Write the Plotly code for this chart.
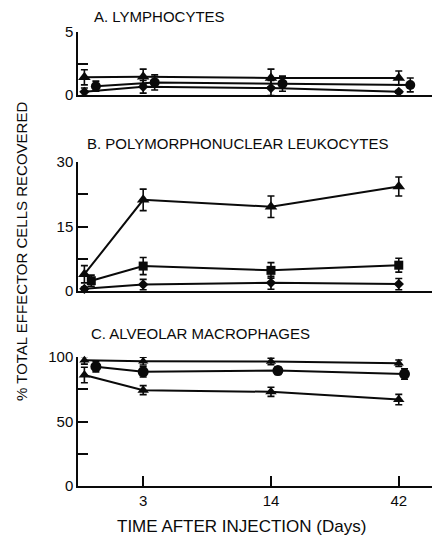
import plotly.graph_objects as go

# ---------------- data ----------------
days = [0, 3, 14, 42]
tick_days = [3, 14, 42]
tick_labels = ["3", "14", "42"]

# Panel A: lymphocytes
a_tri = [1.4, 1.45, 1.35, 1.35]
a_tri_err = [0.6, 0.6, 0.7, 0.55]
a_cir = [0.7, 1.0, 0.9, 0.8]
a_cir_err = [0.4, 0.6, 0.6, 0.55]
a_dia = [0.25, 0.65, 0.55, 0.25]
a_dia_err = [0.3, 0.5, 0.6, 0.1]

# Panel B: polymorphonuclear leukocytes
b_tri = [3.9, 21.2, 19.6, 24.3]
b_tri_err = [2.0, 2.5, 2.5, 2.2]
b_sq = [2.4, 5.8, 4.8, 6.0]
b_sq_err = [1.3, 2.0, 1.8, 1.6]
b_dia = [0.5, 1.5, 1.9, 1.6]
b_dia_err = [0.4, 1.2, 1.5, 1.3]

# Panel C: alveolar macrophages
c_up = [97.5, 96.8, 96.5, 95.2]
c_up_err = [3.0, 3.0, 2.5, 2.5]
c_cir = [92.5, 88.5, 89.5, 86.8]
c_cir_err = [4.0, 4.0, 3.0, 4.0]
c_low = [86.0, 74.3, 73.0, 67.0]
c_low_err = [6.0, 3.5, 3.5, 4.0]

# ---------------- scale: ordinal time axis ----------------
day_index = {0: 0.54, 3: 1.0, 14: 2.0, 42: 3.0}
x_main = [day_index[d] for d in days]
shift = 0.09  # horizontal offset used in the original to separate overlapping symbols
x_shift = [x + shift for x in x_main]
x_range = [0.49, 3.26]

W, H = 435, 543
FONT = "Liberation Sans, Arial, sans-serif"
BLACK = "#0a0a0a"


def py(p):
    return 1 - p / H


def px(p):
    return p / W


fig = go.Figure()


def add(x, y, err, sym, size, xa, ya):
    fig.add_trace(go.Scatter(
        x=x, y=y, mode="lines+markers",
        line=dict(color=BLACK, width=2),
        marker=dict(symbol=sym, size=size, color=BLACK),
        error_y=dict(type="data", array=err, visible=True,
                     color=BLACK, thickness=1.6, width=3.5),
        xaxis=xa, yaxis=ya, showlegend=False, cliponaxis=False,
    ))


# Panel A (top) -> x3/y3
add(x_main, a_tri, a_tri_err, "triangle-up", 11, "x3", "y3")
add(x_shift, a_cir, a_cir_err, "circle", 10, "x3", "y3")
add(x_main, a_dia, a_dia_err, "diamond", 8, "x3", "y3")
# Panel B (middle) -> x2/y2
add(x_main, b_tri, b_tri_err, "triangle-up", 11, "x2", "y2")
add([x_main[0] + shift * 0.6] + x_main[1:], b_sq, b_sq_err, "square", 9, "x2", "y2")
add(x_main, b_dia, b_dia_err, "diamond", 8, "x2", "y2")
# Panel C (bottom) -> x/y
add(x_main, c_up, c_up_err, "triangle-up", 9, "x", "y")
add([x_main[0] + shift, x_main[1], x_main[2] + shift * 0.6, x_main[3] + shift * 0.5],
    c_cir, c_cir_err, "circle", 11, "x", "y")
add(x_main, c_low, c_low_err, "triangle-up", 10, "x", "y")

xdom = [px(78), px(432)]
tfont = dict(family=FONT, size=15, color=BLACK)
yaxis_common = dict(showline=True, linecolor=BLACK, linewidth=1.5, ticks="inside",
                    ticklen=10, tickwidth=1.5, tickcolor=BLACK, showgrid=False,
                    zeroline=False, tickfont=tfont, automargin=False)
xaxis_common = dict(range=x_range, domain=xdom, showline=True, linecolor=BLACK,
                    linewidth=1.5, showgrid=False, zeroline=False, automargin=False)

fig.update_layout(
    width=W, height=H,
    margin=dict(l=0, r=0, t=0, b=0),
    paper_bgcolor="white", plot_bgcolor="white",
    xaxis=dict(**xaxis_common, anchor="y",
               tickvals=[day_index[d] for d in tick_days], ticktext=tick_labels,
               ticks="inside", ticklen=10, tickwidth=1.5, tickcolor=BLACK,
               tickfont=tfont),
    xaxis2=dict(**xaxis_common, anchor="y2", showticklabels=False, ticks=""),
    xaxis3=dict(**xaxis_common, anchor="y3", showticklabels=False, ticks=""),
    yaxis=dict(**yaxis_common, anchor="x", domain=[py(486), py(357)], range=[0, 100],
               tickvals=[0, 25, 50, 75, 100], ticktext=["0", "", "50", "", "100"]),
    yaxis2=dict(**yaxis_common, anchor="x2", domain=[py(291), py(162)], range=[0, 30],
                tickvals=[0, 7.5, 15, 22.5, 30], ticktext=["0", "", "15", "", "30"]),
    yaxis3=dict(**yaxis_common, anchor="x3", domain=[py(95), py(32)], range=[0, 5],
                tickvals=[0, 2.5, 5], ticktext=["0", "", "5"]),
)

titles = [("A. LYMPHOCYTES", 92, 16),
          ("B. POLYMORPHONUCLEAR LEUKOCYTES", 85, 143),
          ("C. ALVEOLAR MACROPHAGES", 89, 333)]
for txt, x0, y0 in titles:
    fig.add_annotation(text=txt, xref="paper", yref="paper", x=px(x0), y=py(y0),
                       xanchor="left", yanchor="middle", showarrow=False,
                       font=dict(family=FONT, size=15, color=BLACK))

fig.add_annotation(text="% TOTAL EFFECTOR CELLS RECOVERED", xref="paper", yref="paper",
                   x=px(22), y=py(252), textangle=-90, showarrow=False,
                   xanchor="center", yanchor="middle",
                   font=dict(family=FONT, size=15, color=BLACK))
fig.add_annotation(text="TIME AFTER INJECTION (Days)", xref="paper", yref="paper",
                   x=px(242), y=py(526), showarrow=False, xanchor="center", yanchor="middle",
                   font=dict(family=FONT, size=17, color=BLACK))

fig.write_html("out.html", config={"displayModeBar": False},
               post_script="document.body.style.margin='0';")
